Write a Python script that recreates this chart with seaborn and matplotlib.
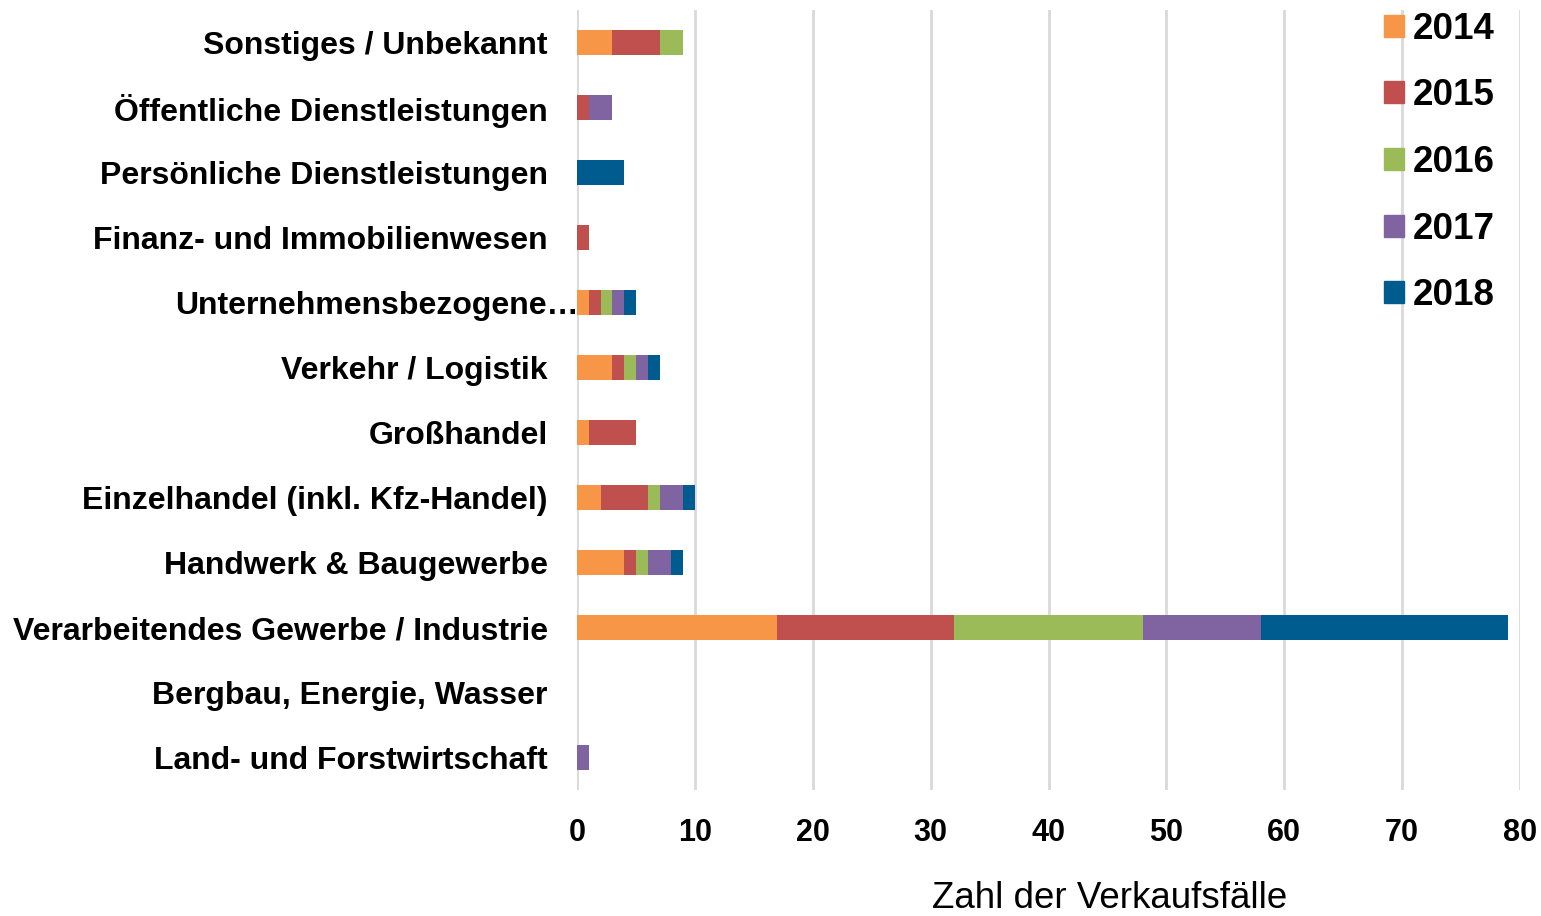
import numpy as np
import pandas as pd
import matplotlib.pyplot as plt
import matplotlib.patches as mpatches
import matplotlib.transforms as mtransforms
import seaborn as sns

# Branchen (von oben nach unten) und Verkaufsfälle je Jahr
branchen = ['Sonstiges / Unbekannt', 'Öffentliche Dienstleistungen',
            'Persönliche Dienstleistungen', 'Finanz- und Immobilienwesen',
            'Unternehmensbezogene…', 'Verkehr / Logistik', 'Großhandel',
            'Einzelhandel (inkl. Kfz-Handel)', 'Handwerk & Baugewerbe',
            'Verarbeitendes Gewerbe / Industrie', 'Bergbau, Energie, Wasser',
            'Land- und Forstwirtschaft']
jahre = ['2014', '2015', '2016', '2017', '2018']
v2014 = [3, 0, 0, 0, 1, 3, 1, 2, 4, 17, 0, 0]
v2015 = [4, 1, 0, 1, 1, 1, 4, 4, 1, 15, 0, 0]
v2016 = [2, 0, 0, 0, 1, 1, 0, 1, 1, 16, 0, 0]
v2017 = [0, 2, 0, 0, 1, 1, 0, 2, 2, 10, 0, 1]
v2018 = [0, 0, 4, 0, 1, 1, 0, 1, 1, 21, 0, 0]
farben = ['#F79646', '#C0504D', '#9BBB59', '#8064A2', '#005B8E']

sns.set_style('white')
plt.rcParams['font.family'] = ['Liberation Sans', 'DejaVu Sans']
plt.rcParams['text.color'] = 'black'
plt.rcParams['xtick.color'] = 'black'
plt.rcParams['ytick.color'] = 'black'
plt.rcParams['axes.labelcolor'] = 'black'

# kumulierte Werte für gestapelte Balken
werte = np.array([v2014, v2015, v2016, v2017, v2018])
kumuliert = werte.cumsum(axis=0)

fig = plt.figure(figsize=(15.41, 9.16), dpi=100)
ax = fig.add_axes([577 / 1541, 1 - 790 / 916, 943 / 1541, 780 / 916])

# von hinten nach vorne zeichnen, damit die Segmente sichtbar bleiben
for i in range(len(jahre) - 1, -1, -1):
    df = pd.DataFrame({'Branche': branchen, 'Wert': kumuliert[i]})
    sns.barplot(data=df, x='Wert', y='Branche', order=branchen,
                color=farben[i], width=0.39, orient='h', ax=ax,
                saturation=1, edgecolor='none', linewidth=0)

ax.set_xlim(0, 80)
ax.set_ylim(11.5, -0.5)
ax.set_xticks(range(0, 81, 10))
ax.xaxis.grid(True, color='#D9D9D9', linewidth=2)
ax.set_axisbelow(True)
for s in ax.spines.values():
    s.set_visible(False)
ax.tick_params(axis='y', length=0, pad=21, labelsize=23, labelcolor='black')
ax.tick_params(axis='x', length=0, pad=20, labelsize=22, labelcolor='black')
for lbl in ax.get_yticklabels() + ax.get_xticklabels():
    lbl.set_fontweight('bold')

# abgeschnittenes Label ragt im Original bis an die Achse
for lbl in ax.get_yticklabels():
    if lbl.get_text().endswith('…'):
        lbl.set_transform(lbl.get_transform() + mtransforms.ScaledTranslation(
            0.31, 0, fig.dpi_scale_trans))

ax.set_ylabel('')
ax.set_xlabel('Zahl der Verkaufsfälle', fontsize=26.5, color='black')
ax.xaxis.set_label_coords(0.565, -0.117)

# Legende rechts oben
handles = [mpatches.Patch(color=c, label=j) for c, j in zip(farben, jahre)]
leg = fig.legend(handles=handles, loc='upper left',
                 bbox_to_anchor=(1369 / 1541, 1 + 3 / 916), frameon=False,
                 prop={'weight': 'bold', 'size': 26.5}, handlelength=0.55,
                 handleheight=0.55, handletextpad=0.25, labelspacing=0.86,
                 borderaxespad=0)
for t in leg.get_texts():
    t.set_color('black')

fig.savefig('out.png', dpi=100)
